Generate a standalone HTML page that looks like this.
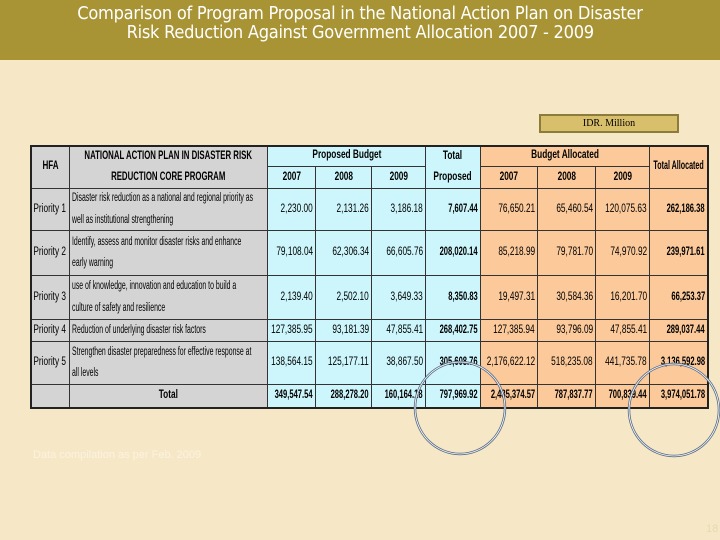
<!DOCTYPE html>
<html><head><meta charset="utf-8"><style>
body{margin:0;width:720px;height:540px;overflow:hidden;position:relative;background:#f6e8c6;font-family:"Liberation Sans",sans-serif}
#title{position:absolute;left:0;top:0;width:720px;height:60px;background:#a89434;color:#fff;text-align:center;font-family:"DejaVu Sans",sans-serif;font-size:17.5px;line-height:19px;padding-top:5px;box-sizing:border-box;letter-spacing:-0.3px}
#title span{display:inline-block;transform:scaleX(0.93);white-space:nowrap}
#unit{position:absolute;left:539px;top:114px;width:136px;height:15px;background:#d8bf6c;border:2px solid #8c7c3c;font-family:"Liberation Serif",serif;font-size:10px;text-align:center;line-height:15px}
.c{position:absolute;box-sizing:border-box;border-right:1px solid #333;border-bottom:1px solid #333;font-family:"Liberation Sans",sans-serif;font-size:11.5px;color:#000;display:flex;align-items:center;overflow:visible;padding:0 2px}
.c span{display:inline-block;line-height:1.85;white-space:nowrap;flex:none}
#note{position:absolute;left:33px;top:449px;color:#fbf3e0;font-size:11px}
#pg{position:absolute;left:706px;top:523px;color:#e8d8b0;font-size:11px}
</style></head><body>
<div id="title"><span>Comparison of Program Proposal in the National Action Plan on Disaster</span><br><span>Risk Reduction Against Government Allocation 2007 - 2009</span></div>
<div id="unit">IDR. Million</div>
<div id="tbl" style="position:absolute;left:30px;top:145px;width:679px;height:264px;border:2px solid #222;box-sizing:border-box;z-index:5;pointer-events:none"></div>
<div id="note">Data compilation as per Feb. 2009</div>
<div id="pg">18</div>
<svg style="position:absolute;left:0;top:0;z-index:6" width="720" height="540">
<ellipse cx="460" cy="408" rx="45" ry="46" fill="none" stroke="#5a6e88" stroke-width="2.5"/>
<ellipse cx="460" cy="408" rx="45" ry="46" fill="none" stroke="#fff" stroke-width="0.8"/>
<ellipse cx="674" cy="410" rx="45" ry="46" fill="none" stroke="#5a6e88" stroke-width="2.5"/>
<ellipse cx="674" cy="410" rx="45" ry="46" fill="none" stroke="#fff" stroke-width="0.8"/>
</svg>
<script>
const hfa=["Priority 1","Priority 2","Priority 3","Priority 4","Priority 5"];
const programs=[["Disaster risk reduction as a national and regional priority as","well as institutional strengthening"],["Identify, assess and monitor disaster risks and enhance","early warning"],["use of knowledge, innovation and education to build a","culture of safety and resilience"],["Reduction of underlying disaster risk factors"],["Strengthen disaster preparedness for effective response at","all levels"]];
const prop2007=["2,230.00","79,108.04","2,139.40","127,385.95","138,564.15","349,547.54"];
const prop2008=["2,131.26","62,306.34","2,502.10","93,181.39","125,177.11","288,278.20"];
const prop2009=["3,186.18","66,605.76","3,649.33","47,855.41","38,867.50","160,164.18"];
const propTotal=["7,607.44","208,020.14","8,350.83","268,402.75","305,608.76","797,969.92"];
const alloc2007=["76,650.21","85,218.99","19,497.31","127,385.94","2,176,622.12","2,485,374.57"];
const alloc2008=["65,460.54","79,781.70","30,584.36","93,796.09","518,235.08","787,837.77"];
const alloc2009=["120,075.63","74,970.92","16,201.70","47,855.41","441,735.78","700,839.44"];
const allocTotal=["262,186.38","239,971.61","66,253.37","289,037.44","3,136,592.98","3,974,051.78"];
const colX=[31,70,268,316,372,426,481,538,596,650,708];
const rowY=[146,167,189,231,276,320,342,385,408];
const GR="#d4d4d4",BL="#ccf6fb",OR="#fbc99a";
function cell(x0,x1,y0,y1,txt,bg,align,bold,name,sc){
  const d=document.createElement('div');
  d.className='c';
  
  
  d.style.left=x0+'px';d.style.top=y0+'px';d.style.width=(x1-x0)+'px';d.style.height=(y1-y0)+'px';
  d.style.background=bg;
  d.style.justifyContent=align==='r'?'flex-end':align==='l'?'flex-start':'center';
  const s=document.createElement('span');
  s.style.transform='scaleX('+sc+')';
  s.style.transformOrigin=align==='r'?'right center':align==='l'?'left center':'center center';
  if(align==='c')s.style.textAlign='center';
  if(bold)s.style.fontWeight='bold';
  s.innerHTML=txt;d.appendChild(s);document.body.appendChild(d);
}
cell(colX[0],colX[1],rowY[0],rowY[2],"HFA",GR,'c',1,'header-hfa',0.7);
cell(colX[1],colX[2],rowY[0],rowY[2],"NATIONAL ACTION PLAN IN DISASTER RISK<br>REDUCTION CORE PROGRAM",GR,'c',1,'header-program',0.68);
cell(colX[2],colX[5],rowY[0],rowY[1],"Proposed Budget",BL,'c',1,'header-proposed',0.72);
cell(colX[5],colX[6],rowY[0],rowY[2],"Total<br>Proposed",BL,'c',1,'header-total-proposed',0.72);
cell(colX[6],colX[9],rowY[0],rowY[1],"Budget Allocated",OR,'c',1,'header-allocated',0.72);
cell(colX[9],colX[10],rowY[0],rowY[2],"Total Allocated",OR,'c',1,'header-total-allocated',0.62);
const yrs=["2007","2008","2009"];
for(let i=0;i<3;i++){cell(colX[2+i],colX[3+i],rowY[1],rowY[2],yrs[i],BL,'c',1,'header-proposed-year',0.72);cell(colX[6+i],colX[7+i],rowY[1],rowY[2],yrs[i],OR,'c',1,'header-allocated-year',0.72);}
const cols=[prop2007,prop2008,prop2009,propTotal,alloc2007,alloc2008,alloc2009,allocTotal];
for(let r=0;r<6;r++){
  const y0=rowY[2+r],y1=rowY[3+r];
  if(r<5){cell(colX[0],colX[1],y0,y1,hfa[r],GR,'c',0,'hfa-cell',0.72);cell(colX[1],colX[2],y0,y1,programs[r].join('<br>'),GR,'l',0,'program-cell',0.6);}
  else{cell(colX[0],colX[1],y0,y1,"",GR,'c',0,'total-blank',1);cell(colX[1],colX[2],y0,y1,"Total",GR,'c',1,'total-label',0.72);}
  cols.forEach((a,k)=>{const b=(k===3||k===7||r===5);cell(colX[2+k],colX[3+k],y0,y1,a[r],k<4?BL:OR,'r',b,'value-cell',b?0.66:0.72);});
}
</script>
</body></html>
